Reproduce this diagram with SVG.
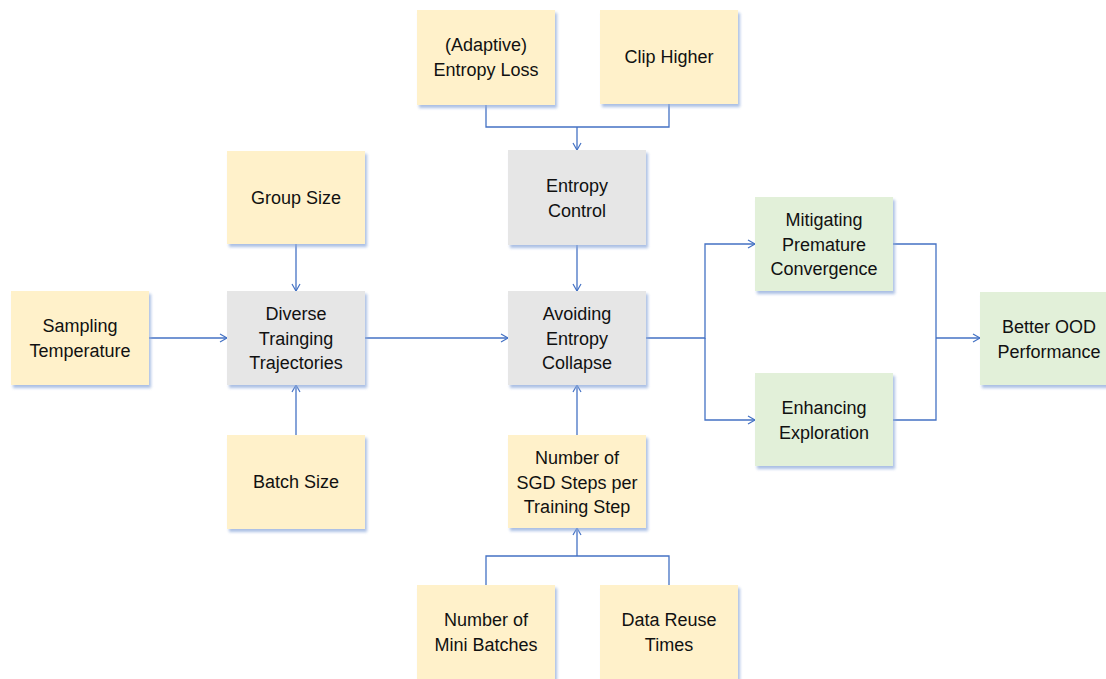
<svg xmlns="http://www.w3.org/2000/svg" width="1106" height="679" viewBox="0 0 1106 679">
<defs>
<filter id="sh" x="-10%" y="-10%" width="130%" height="130%">
<feGaussianBlur stdDeviation="1.6"/>
</filter>
<marker id="arr" markerWidth="12" markerHeight="12" refX="10" refY="6" orient="auto" markerUnits="userSpaceOnUse">
<path d="M3,2 L10,6 L3,10" fill="none" stroke="#4472C4" stroke-width="1.2"/>
</marker>
</defs>
<style>
.s{fill:#8FAADC;opacity:0.75;filter:url(#sh)}
.y{fill:#FFF1CA}
.g{fill:#E6E6E6}
.gr{fill:#E2F0D9}
text{font-family:"Liberation Sans",Arial,sans-serif;font-size:18px;fill:#111;text-anchor:middle}
.c{fill:none;stroke:#4472C4;stroke-width:1.3}
</style>
<rect width="1106" height="679" fill="#fff"/>
<g id="connectors">
<path class="c" d="M486,105 V127 H669 V104"/>
<path class="c" d="M577,127 V150" marker-end="url(#arr)"/>
<path class="c" d="M577,245 V291" marker-end="url(#arr)"/>
<path class="c" d="M296,244 V291" marker-end="url(#arr)"/>
<path class="c" d="M296,435 V385" marker-end="url(#arr)"/>
<path class="c" d="M149,338 H227" marker-end="url(#arr)"/>
<path class="c" d="M365,338 H508" marker-end="url(#arr)"/>
<path class="c" d="M577,435 V385" marker-end="url(#arr)"/>
<path class="c" d="M486,585 V556 H669 V585"/>
<path class="c" d="M577,556 V528" marker-end="url(#arr)"/>
<path class="c" d="M646,338 H705 V244 H755" marker-end="url(#arr)"/>
<path class="c" d="M705,338 V420 H755" marker-end="url(#arr)"/>
<path class="c" d="M893,244 H936 V420 H893"/>
<path class="c" d="M936,338 H980" marker-end="url(#arr)"/>
</g>
<g id="entropy-loss"><rect class="s" x="419" y="13" width="138" height="95"/><rect class="y" x="417" y="10" width="138" height="95"/><text x="486" y="51">(Adaptive)</text><text x="486" y="76">Entropy Loss</text></g>
<g id="clip-higher"><rect class="s" x="602" y="13" width="138" height="94"/><rect class="y" x="600" y="10" width="138" height="94"/><text x="669" y="63">Clip Higher</text></g>
<g id="entropy-control"><rect class="s" x="510" y="153" width="138" height="95"/><rect class="g" x="508" y="150" width="138" height="95"/><text x="577" y="192">Entropy</text><text x="577" y="217">Control</text></g>
<g id="group-size"><rect class="s" x="229" y="154" width="138" height="93"/><rect class="y" x="227" y="151" width="138" height="93"/><text x="296" y="204">Group Size</text></g>
<g id="sampling-temperature"><rect class="s" x="13" y="294" width="138" height="94"/><rect class="y" x="11" y="291" width="138" height="94"/><text x="80" y="332">Sampling</text><text x="80" y="357">Temperature</text></g>
<g id="diverse"><rect class="s" x="229" y="294" width="138" height="94"/><rect class="g" x="227" y="291" width="138" height="94"/><text x="296" y="320">Diverse</text><text x="296" y="345">Trainging</text><text x="296" y="369">Trajectories</text></g>
<g id="avoiding"><rect class="s" x="510" y="294" width="138" height="94"/><rect class="g" x="508" y="291" width="138" height="94"/><text x="577" y="320">Avoiding</text><text x="577" y="345">Entropy</text><text x="577" y="369">Collapse</text></g>
<g id="batch-size"><rect class="s" x="229" y="438" width="138" height="94"/><rect class="y" x="227" y="435" width="138" height="94"/><text x="296" y="488">Batch Size</text></g>
<g id="sgd-steps"><rect class="s" x="510" y="438" width="138" height="93"/><rect class="y" x="508" y="435" width="138" height="93"/><text x="577" y="464">Number of</text><text x="577" y="489">SGD Steps per</text><text x="577" y="513">Training Step</text></g>
<g id="mini-batches"><rect class="s" x="419" y="588" width="138" height="95"/><rect class="y" x="417" y="585" width="138" height="95"/><text x="486" y="626">Number of</text><text x="486" y="651">Mini Batches</text></g>
<g id="data-reuse"><rect class="s" x="602" y="588" width="138" height="95"/><rect class="y" x="600" y="585" width="138" height="95"/><text x="669" y="626">Data Reuse</text><text x="669" y="651">Times</text></g>
<g id="mitigating"><rect class="s" x="757" y="200" width="138" height="94"/><rect class="gr" x="755" y="197" width="138" height="94"/><text x="824" y="226">Mitigating</text><text x="824" y="251">Premature</text><text x="824" y="275">Convergence</text></g>
<g id="enhancing"><rect class="s" x="757" y="376" width="138" height="93"/><rect class="gr" x="755" y="373" width="138" height="93"/><text x="824" y="414">Enhancing</text><text x="824" y="439">Exploration</text></g>
<g id="better-ood"><rect class="s" x="982" y="295" width="138" height="93"/><rect class="gr" x="980" y="292" width="138" height="93"/><text x="1049" y="333">Better OOD</text><text x="1049" y="358">Performance</text></g>
</svg>
